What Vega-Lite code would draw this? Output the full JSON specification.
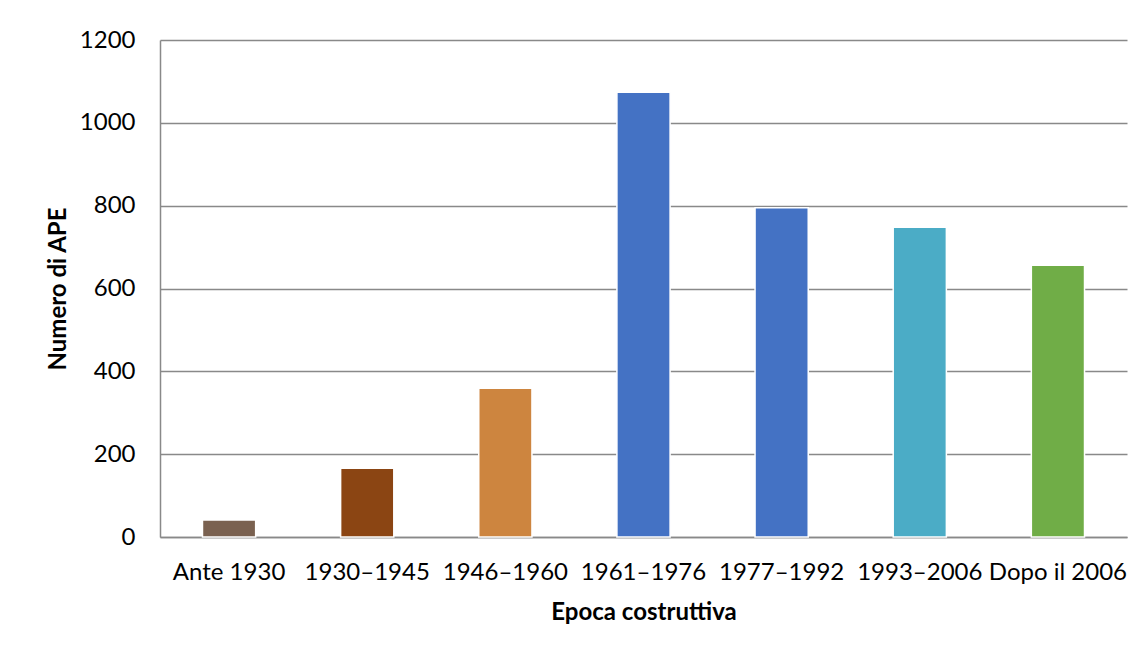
{
  "$schema": "https://vega.github.io/schema/vega-lite/v6.json",
  "autosize": "none",
  "width": 967,
  "height": 497,
  "padding": {"left": 160, "top": 40, "right": 18, "bottom": 118},
  "background": "white",
  "config": {"view": {"stroke": null}, "font": "Lato"},
  "data": {
    "values": [
      {"epoca": "Ante 1930", "n": 41, "c": "#7A6150"},
      {"epoca": "1930–1945", "n": 166, "c": "#8B4513"},
      {"epoca": "1946–1960", "n": 359, "c": "#CD853F"},
      {"epoca": "1961–1976", "n": 1074, "c": "#4472C4"},
      {"epoca": "1977–1992", "n": 795, "c": "#4472C4"},
      {"epoca": "1993–2006", "n": 748, "c": "#4BACC6"},
      {"epoca": "Dopo il 2006", "n": 656, "c": "#70AD47"}
    ]
  },
  "mark": {"type": "bar", "stroke": "white", "strokeWidth": 1.5},
  "encoding": {
    "x": {
      "field": "epoca",
      "type": "nominal",
      "sort": null,
      "scale": {"paddingInner": 0.615, "paddingOuter": 0.3075},
      "axis": {
        "title": "Epoca costruttiva",
        "titleFont": "Lato",
        "titleFontSize": 24,
        "titleFontWeight": "bold",
        "titleColor": "black",
        "titlePadding": 16,
        "labelFont": "Lato",
        "labelFontSize": 24,
        "labelColor": "black",
        "labelAngle": 0,
        "labelPadding": 23,
        "ticks": false,
        "domainColor": "#898989",
        "domainWidth": 1.5
      }
    },
    "y": {
      "field": "n",
      "type": "quantitative",
      "scale": {"domain": [0, 1200], "nice": false},
      "axis": {
        "title": "Numero di APE",
        "titleFont": "Lato",
        "titleFontSize": 24,
        "titleFontWeight": "bold",
        "titleColor": "black",
        "titlePadding": 9,
        "values": [0, 200, 400, 600, 800, 1000, 1200],
        "format": "d",
        "labelFont": "Lato",
        "labelFontSize": 24,
        "labelColor": "black",
        "labelPadding": 25,
        "ticks": false,
        "grid": true,
        "gridColor": "#898989",
        "gridWidth": 1.5,
        "domainColor": "#898989",
        "domainWidth": 1.5
      }
    },
    "color": {"field": "c", "type": "nominal", "scale": null, "legend": null}
  }
}
